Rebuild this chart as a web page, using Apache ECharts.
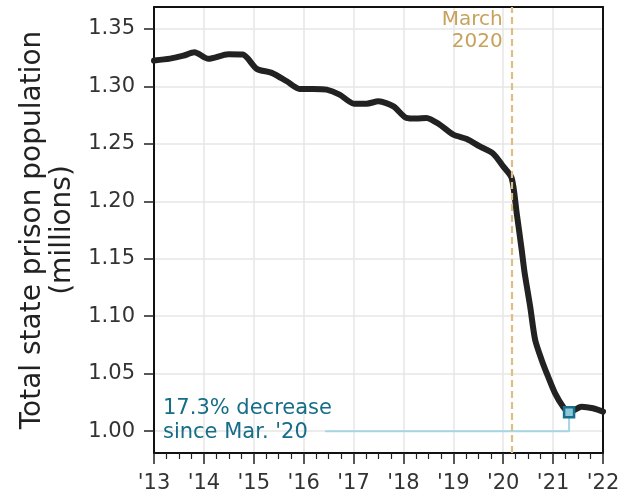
<!DOCTYPE html>
<html>
<head>
<meta charset="utf-8">
<title>State prison population</title>
<script src="https://cdn.jsdelivr.net/npm/echarts@6/dist/echarts.min.js"></script>
<style>
  html, body { margin: 0; padding: 0; background: #fff; }
  #chart { width: 626px; height: 493px; }
</style>
</head>
<body>
<div id="chart"></div>
<script>
// data (decimal year, millions)
var years = [2013.0, 2013.32, 2013.59, 2013.81, 2014.09, 2014.49, 2014.78, 2015.06, 2015.36, 2015.66,
  2015.92, 2016.19, 2016.46, 2016.72, 2017.01, 2017.26, 2017.5, 2017.8, 2018.06, 2018.26,
  2018.46, 2018.73, 2019.0, 2019.27, 2019.53, 2019.8, 2020.0, 2020.17, 2020.27, 2020.37,
  2020.43, 2020.54, 2020.64, 2020.77, 2020.9, 2021.04, 2021.2, 2021.32, 2021.57, 2021.8, 2022.0];
var population = [1.3224, 1.3241, 1.3267, 1.3296, 1.3239, 1.3279, 1.3276, 1.3152, 1.3117, 1.3044,
  1.2977, 1.2977, 1.2971, 1.2928, 1.2849, 1.2849, 1.2869, 1.2826, 1.2725, 1.2719,
  1.2725, 1.2666, 1.2579, 1.2542, 1.2477, 1.2414, 1.2303, 1.2202, 1.1897, 1.1578,
  1.1375, 1.1084, 1.0794, 1.0620, 1.0474, 1.0329, 1.0213, 1.0164, 1.0213, 1.0199, 1.0170];

var yTicks = [1.00, 1.05, 1.10, 1.15, 1.20, 1.25, 1.30, 1.35];
var marchYear = 2020.17;
var lowPoint = [2021.32, 1.0164];
var noteText = "17.3% decrease\nsince Mar. '20";
var connector = [[2016.43, 1.0], [2021.32, 1.0], [2021.32, 1.0164]];

var font = 'DejaVu Sans';
var frame = { show: true, lineStyle: { color: '#111', width: 2 } };
var chart = echarts.init(document.getElementById('chart'));

chart.setOption({
  animation: false,
  textStyle: { fontFamily: font },
  grid: {
    left: 154, right: 23, top: 7, bottom: 40,
    outerBoundsMode: 'none'
  },
  xAxis: [{
    type: 'value',
    min: 2013, max: 2022, interval: 1,
    axisLine: frame,
    axisTick: { show: true, length: 11, lineStyle: { color: '#222', width: 1.5 } },
    minorTick: { show: true, splitNumber: 4, length: 6, lineStyle: { color: '#222', width: 1.2 } },
    axisLabel: {
      color: '#333', fontSize: 21, margin: 20, fontFamily: font,
      formatter: function (v) { return "'" + String(v).slice(2); }
    },
    splitLine: { show: true, lineStyle: { color: '#e6e6e6', width: 1.5 } }
  }, {
    type: 'value', position: 'top',
    min: 2013, max: 2022,
    axisLine: frame, axisTick: { show: false }, axisLabel: { show: false }, splitLine: { show: false }
  }],
  yAxis: [{
    type: 'value',
    min: 0.981, max: 1.369,
    axisLine: frame,
    axisTick: { show: true, length: 10, customValues: yTicks, lineStyle: { color: '#222', width: 1.5 } },
    axisLabel: {
      color: '#333', fontSize: 21, margin: 19, fontFamily: font, customValues: yTicks,
      formatter: function (v) { return v.toFixed(2); }
    },
    splitLine: { show: true, lineStyle: { color: '#e6e6e6', width: 1.5 } },
    name: 'Total state prison population\n(millions)',
    nameLocation: 'middle',
    nameRotate: 90,
    nameGap: 75,
    nameTextStyle: { fontSize: 28, color: '#222', lineHeight: 30, fontFamily: font }
  }, {
    type: 'value', position: 'right',
    min: 0.981, max: 1.369,
    axisLine: frame, axisTick: { show: false }, axisLabel: { show: false }, splitLine: { show: false }
  }],
  series: [
    {
      type: 'line',
      data: connector,
      symbol: 'none',
      lineStyle: { color: '#a6d5e3', width: 2 },
      z: 2,
      silent: true
    },
    {
      type: 'line',
      data: years.map(function (y, i) { return [y, population[i]]; }),
      symbol: 'none',
      smooth: 0.25,
      lineStyle: { color: '#222', width: 6, cap: 'round', join: 'round' },
      z: 3,
      markLine: {
        symbol: 'none',
        silent: true,
        label: { show: false },
        lineStyle: { color: '#dfbe84', width: 2.2, type: [7, 4] },
        data: [{ xAxis: marchYear }]
      }
    },
    {
      type: 'scatter',
      data: [lowPoint],
      symbol: 'rect',
      symbolSize: 10,
      itemStyle: { color: '#8cc8d9', borderColor: '#17708c', borderWidth: 2.5, opacity: 1 },
      z: 5
    },
    {
      type: 'scatter',
      data: [[2019.99, 1.3485]],
      symbolSize: 0,
      z: 6,
      silent: true,
      itemStyle: { opacity: 1 },
      label: {
        show: true, position: 'left', distance: 0, align: 'right',
        formatter: 'March\n2020', color: '#c8a15c', fontSize: 20, lineHeight: 22, fontFamily: font
      }
    },
    {
      type: 'scatter',
      data: [[2013.18, 1.0088]],
      symbolSize: 0,
      z: 6,
      silent: true,
      itemStyle: { opacity: 1 },
      label: {
        show: true, position: 'right', distance: 0, align: 'left',
        formatter: noteText, color: '#156d88', fontSize: 21, lineHeight: 24, fontFamily: font
      }
    }
  ]
});
</script>
</body>
</html>
